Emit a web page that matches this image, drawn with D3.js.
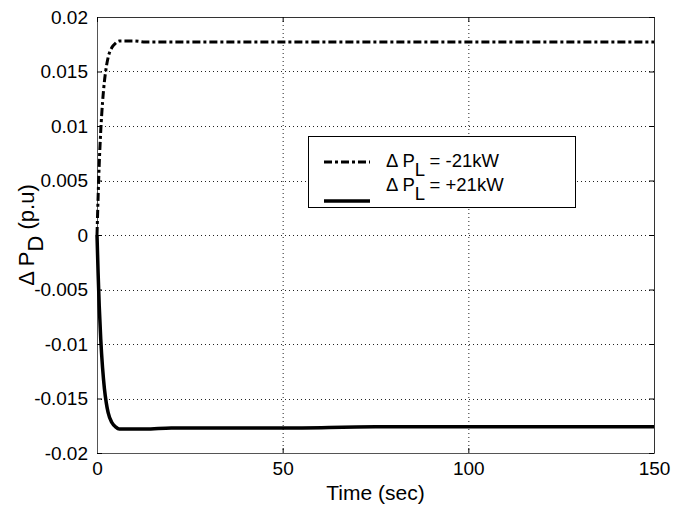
<!DOCTYPE html>
<html>
<head>
<meta charset="utf-8">
<script src="https://cdn.jsdelivr.net/npm/d3@7"></script>
<style>
  body { margin: 0; background: #fff; }
  text { font-family: "Liberation Sans", Arial, sans-serif; fill: #000; }
</style>
</head>
<body>
<div id="chart"></div>
<script>
// values
let timeSec = [0, 0.3, 0.6, 1, 1.5, 2, 2.5, 3, 4, 5, 6, 7, 8, 10, 13, 20, 30, 50, 75, 100, 125, 150];
let dPminus = [0, 0.0035, 0.0065, 0.0095, 0.0122, 0.0141, 0.0154, 0.0163, 0.0172, 0.0176, 0.0178, 0.0178, 0.0178, 0.0178, 0.0177, 0.0177, 0.0177, 0.0177, 0.0177, 0.0177, 0.0177, 0.0177];
let dPplus = [0, -0.0035, -0.0065, -0.0095, -0.0122, -0.0141, -0.0154, -0.0163, -0.0172, -0.0176, -0.0178, -0.0178, -0.0178, -0.0178, -0.0178, -0.0177, -0.0177, -0.0177, -0.0176, -0.0176, -0.0176, -0.0176];
let xTicks = [0, 50, 100, 150];
let yTicks = [-0.02, -0.015, -0.01, -0.005, 0, 0.005, 0.01, 0.015, 0.02];
let yTickLabels = ["-0.02", "-0.015", "-0.01", "-0.005", "0", "0.005", "0.01", "0.015", "0.02"];

let width = 694;
let height = 510;
let margin = ({top: 17, right: 40, bottom: 57, left: 97});

let svg = d3.select("#chart")
  .append("svg")
  .attr("width", width).attr("height", height);

let xScale = d3.scaleLinear()
  .domain([0, 150])
  .range([margin.left, width - margin.right]);
let yScale = d3.scaleLinear()
  .domain([-0.02, 0.02])
  .range([height - margin.bottom, margin.top]);

let x0 = xScale.range()[0], x1 = xScale.range()[1];
let y0 = yScale.range()[0], y1 = yScale.range()[1];

// dotted grid
let grid = svg.append("g").attr("stroke", "#222").attr("stroke-width", 1)
  .attr("stroke-dasharray", "1,3");
grid.selectAll("line.gx").data(xTicks.slice(1, -1)).enter()
  .append("line")
  .attr("x1", d => xScale(d) + 0.5).attr("x2", d => xScale(d) + 0.5)
  .attr("y1", y1).attr("y2", y0);
grid.selectAll("line.gy").data(yTicks.slice(1, -1)).enter()
  .append("line")
  .attr("x1", x0).attr("x2", x1)
  .attr("y1", d => Math.round(yScale(d)) + 0.5).attr("y2", d => Math.round(yScale(d)) + 0.5);

// axes (inward ticks, like matlab)
svg.append("g")
  .attr("transform", `translate(0,${y0})`)
  .call(d3.axisBottom(xScale).tickValues(xTicks).tickSize(-5).tickPadding(9).tickSizeOuter(0))
  .call(g => g.select(".domain").attr("stroke", "#555"))
  .call(g => g.selectAll("text").attr("font-size", 19).attr("font-family", "Liberation Sans, Arial, sans-serif"));

svg.append("g")
  .attr("transform", `translate(${x0},0)`)
  .call(d3.axisLeft(yScale).tickValues(yTicks).tickFormat((d, i) => yTickLabels[i])
        .tickSize(-5).tickPadding(9).tickSizeOuter(0))
  .call(g => g.select(".domain").attr("stroke", "#555"))
  .call(g => g.selectAll("text").attr("font-size", 19).attr("font-family", "Liberation Sans, Arial, sans-serif"));

// top and right edges of the box
svg.append("g").attr("transform", `translate(0,${y1})`)
  .call(d3.axisTop(xScale).tickValues(xTicks).tickSize(-5).tickFormat("").tickSizeOuter(0))
  .call(g => g.select(".domain").attr("stroke", "#333"));
svg.append("g").attr("transform", `translate(${x1},0)`)
  .call(d3.axisRight(yScale).tickValues(yTicks).tickSize(-5).tickFormat("").tickSizeOuter(0))
  .call(g => g.select(".domain").attr("stroke", "#333"));

// curves
let line = d3.line()
  .x((d, i) => xScale(timeSec[i]))
  .y(d => yScale(d))
  .curve(d3.curveMonotoneX);

svg.append("path")
  .datum(dPminus)
  .attr("fill", "none").attr("stroke", "#000").attr("stroke-width", 3)
  .attr("stroke-dasharray", "8,3,3,3")
  .attr("d", line);

svg.append("path")
  .datum(dPplus)
  .attr("fill", "none").attr("stroke", "#000").attr("stroke-width", 3.5)
  .attr("d", line);

// legend
let lg = svg.append("g").attr("transform", "translate(308,136)");
lg.append("rect")
  .attr("x", 0.5).attr("y", 0.5).attr("width", 267).attr("height", 71)
  .attr("fill", "#fff").attr("stroke", "#000").attr("stroke-width", 1);

lg.append("line").attr("x1", 16).attr("x2", 62).attr("y1", 26).attr("y2", 26)
  .attr("stroke", "#000").attr("stroke-width", 3).attr("stroke-dasharray", "8,3,3,3");
lg.append("line").attr("x1", 16).attr("x2", 62).attr("y1", 65).attr("y2", 65)
  .attr("stroke", "#000").attr("stroke-width", 3.5);

let legendText = ["= -21kW", "= +21kW"];
legendText.forEach(function (s, i) {
  let t = lg.append("text").attr("x", 78).attr("y", 31 + i * 24).attr("font-size", 18.5);
  t.append("tspan").text("\u0394 P");
  t.append("tspan").attr("dy", 9).text("L");
  t.append("tspan").attr("dy", -9).text(" " + s);
});

// axis labels
svg.append("text")
  .attr("x", (x0 + x1) / 2).attr("y", 500)
  .attr("text-anchor", "middle").attr("font-size", 21)
  .text("Time (sec)");

let yl = svg.append("text")
  .attr("transform", `translate(34,${(y0 + y1) / 2}) rotate(-90)`)
  .attr("text-anchor", "middle").attr("font-size", 22);
yl.append("tspan").text("\u0394 P");
yl.append("tspan").attr("dy", 9).text("D");
yl.append("tspan").attr("dy", -9).text(" (p.u)");
</script>
</body>
</html>
